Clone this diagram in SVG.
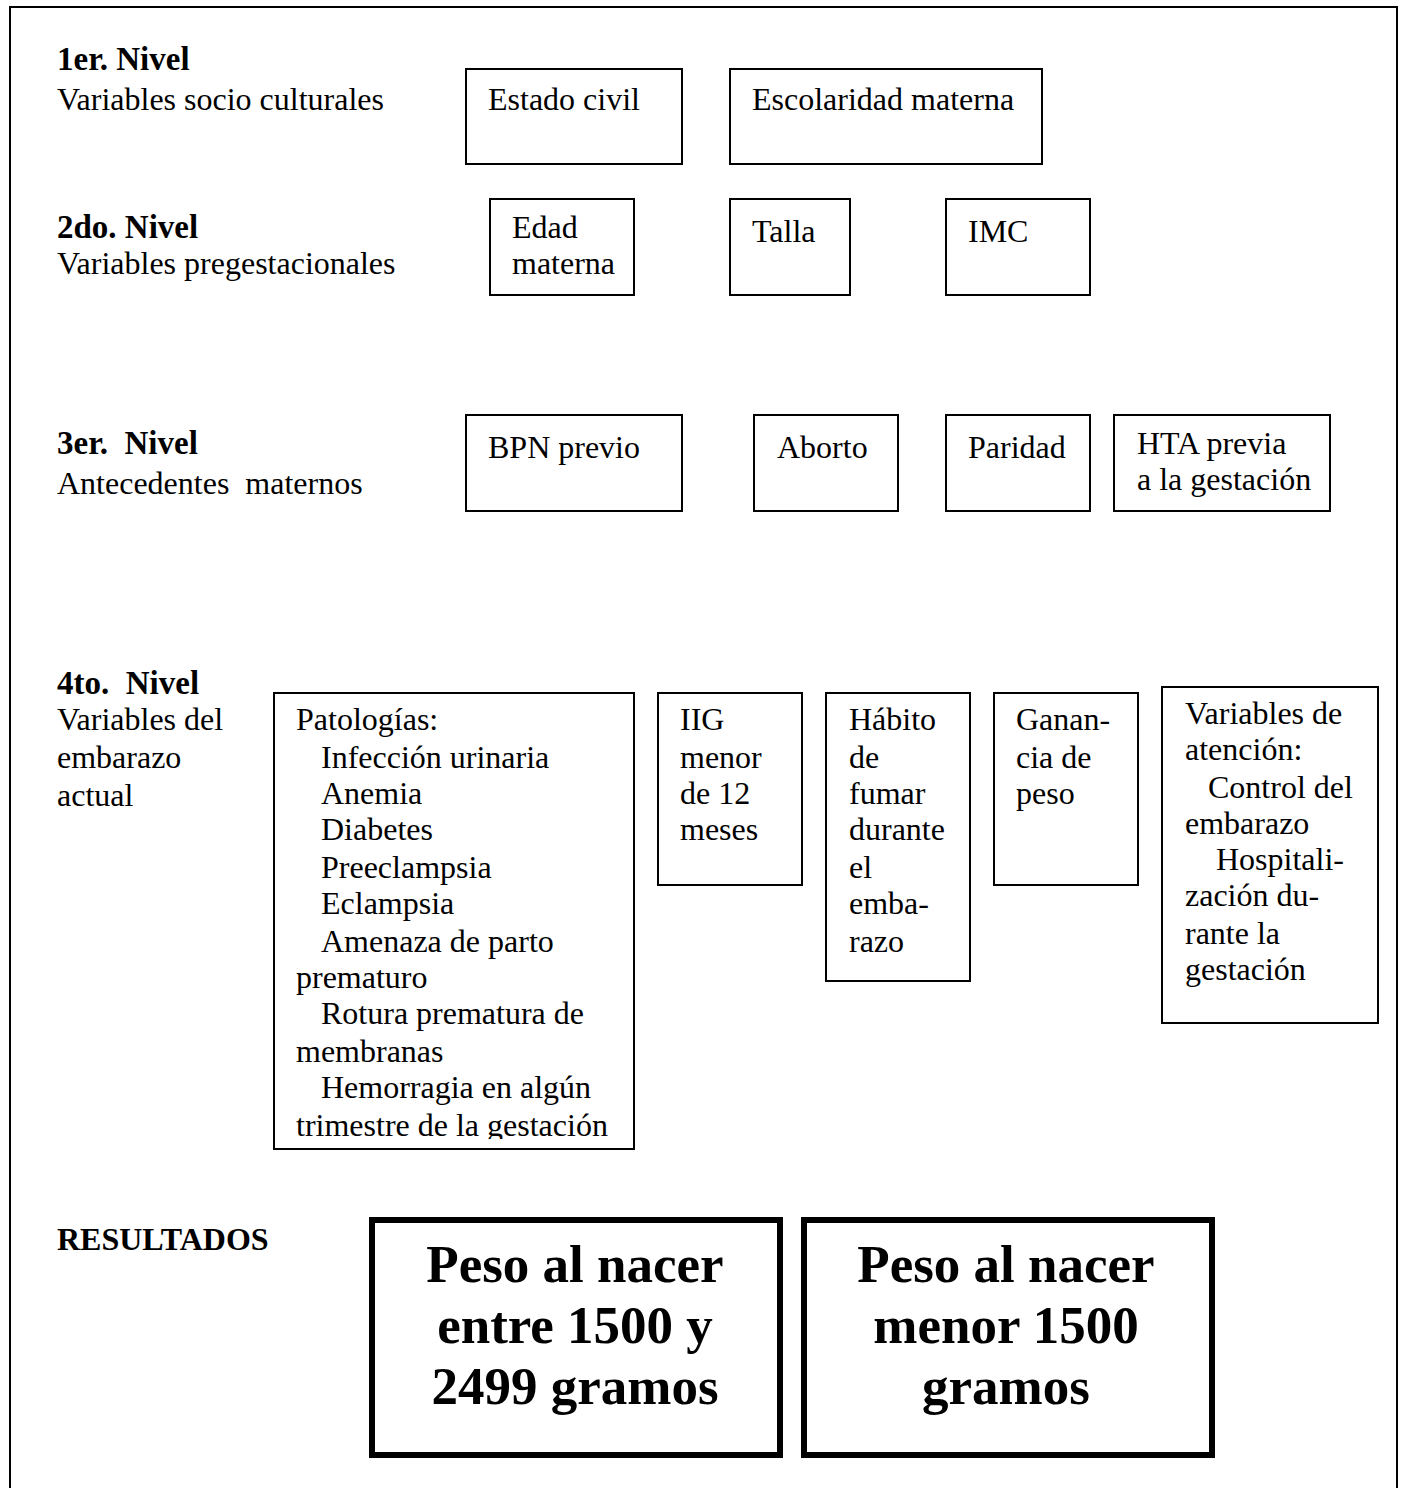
<svg xmlns="http://www.w3.org/2000/svg" width="1407" height="1488" viewBox="0 0 1407 1488">
<style>
text{font-family:"Liberation Serif","Times New Roman",serif;font-size:32px;fill:#000}
.b{font-weight:bold;font-size:33px}
.r{font-weight:bold;font-size:32px}
.big{font-weight:bold;font-size:53px;text-anchor:middle}
rect{fill:#fff;stroke:#000;stroke-width:2}
.thick{stroke-width:6}
</style>
<defs>
<clipPath id="clipPat"><rect x="274" y="693" width="360" height="446"/></clipPath>
</defs>
<rect id="frame" x="10" y="7" width="1387" height="1500" fill="none"/>
<g id="labels">
<text x="57" y="70" class="b">1er. Nivel</text>
<text x="57" y="110">Variables socio culturales</text>
<text x="57" y="238" class="b">2do. Nivel</text>
<text x="57" y="274">Variables pregestacionales</text>
<text x="57" y="454" class="b" xml:space="preserve">3er.  Nivel</text>
<text x="57" y="494" xml:space="preserve">Antecedentes  maternos</text>
<text x="57" y="694" class="b" xml:space="preserve">4to.  Nivel</text>
<text x="57" y="730">Variables del</text>
<text x="57" y="768">embarazo</text>
<text x="57" y="806">actual</text>
<text x="57" y="1250" class="r">RESULTADOS</text>
</g>
<g id="connectors"></g>
<g id="n-estado"><rect x="466" y="69" width="216" height="95"/><text x="488" y="110">Estado civil</text></g>
<g id="n-escolaridad"><rect x="730" y="69" width="312" height="95"/><text x="752" y="110">Escolaridad materna</text></g>
<g id="n-edad"><rect x="490" y="199" width="144" height="96"/><text x="512" y="238">Edad</text><text x="512" y="274">materna</text></g>
<g id="n-talla"><rect x="730" y="199" width="120" height="96"/><text x="752" y="242">Talla</text></g>
<g id="n-imc"><rect x="946" y="199" width="144" height="96"/><text x="968" y="242">IMC</text></g>
<g id="n-bpn"><rect x="466" y="415" width="216" height="96"/><text x="488" y="458">BPN previo</text></g>
<g id="n-aborto"><rect x="754" y="415" width="144" height="96"/><text x="777" y="458">Aborto</text></g>
<g id="n-paridad"><rect x="946" y="415" width="144" height="96"/><text x="968" y="458">Paridad</text></g>
<g id="n-hta"><rect x="1114" y="415" width="216" height="96"/><text x="1137" y="454">HTA previa</text><text x="1137" y="490">a la gestación</text></g>
<g id="n-patologias"><rect x="274" y="693" width="360" height="456"/>
<g clip-path="url(#clipPat)">
<text x="296" y="730">Patologías:</text>
<text x="321" y="768">Infección urinaria</text>
<text x="321" y="804">Anemia</text>
<text x="321" y="840">Diabetes</text>
<text x="321" y="878">Preeclampsia</text>
<text x="321" y="914">Eclampsia</text>
<text x="321" y="952">Amenaza de parto</text>
<text x="296" y="988">prematuro</text>
<text x="321" y="1024">Rotura prematura de</text>
<text x="296" y="1062">membranas</text>
<text x="321" y="1098">Hemorragia en algún</text>
<text x="296" y="1136">trimestre de la gestación</text>
</g></g>
<g id="n-iig"><rect x="658" y="693" width="144" height="192"/><text x="680" y="730">IIG</text><text x="680" y="768">menor</text><text x="680" y="804">de 12</text><text x="680" y="840">meses</text></g>
<g id="n-habito"><rect x="826" y="693" width="144" height="288"/><text x="849" y="730">Hábito</text><text x="849" y="768">de</text><text x="849" y="804">fumar</text><text x="849" y="840">durante</text><text x="849" y="878">el</text><text x="849" y="914">emba-</text><text x="849" y="952">razo</text></g>
<g id="n-ganancia"><rect x="994" y="693" width="144" height="192"/><text x="1016" y="730">Ganan-</text><text x="1016" y="768">cia de</text><text x="1016" y="804">peso</text></g>
<g id="n-atencion"><rect x="1162" y="687" width="216" height="336"/><text x="1185" y="724">Variables de</text><text x="1185" y="760">atención:</text><text x="1208" y="798">Control del</text><text x="1185" y="834">embarazo</text><text x="1216" y="870">Hospitali-</text><text x="1185" y="906">zación du-</text><text x="1185" y="944">rante la</text><text x="1185" y="980">gestación</text></g>
<g id="n-res1"><rect class="thick" x="372" y="1220" width="408" height="235"/><text class="big" x="575" y="1282">Peso al nacer</text><text class="big" x="575" y="1343">entre 1500 y</text><text class="big" x="575" y="1404">2499 gramos</text></g>
<g id="n-res2"><rect class="thick" x="804" y="1220" width="408" height="235"/><text class="big" x="1006" y="1282">Peso al nacer</text><text class="big" x="1006" y="1343">menor 1500</text><text class="big" x="1006" y="1404">gramos</text></g>
</svg>
